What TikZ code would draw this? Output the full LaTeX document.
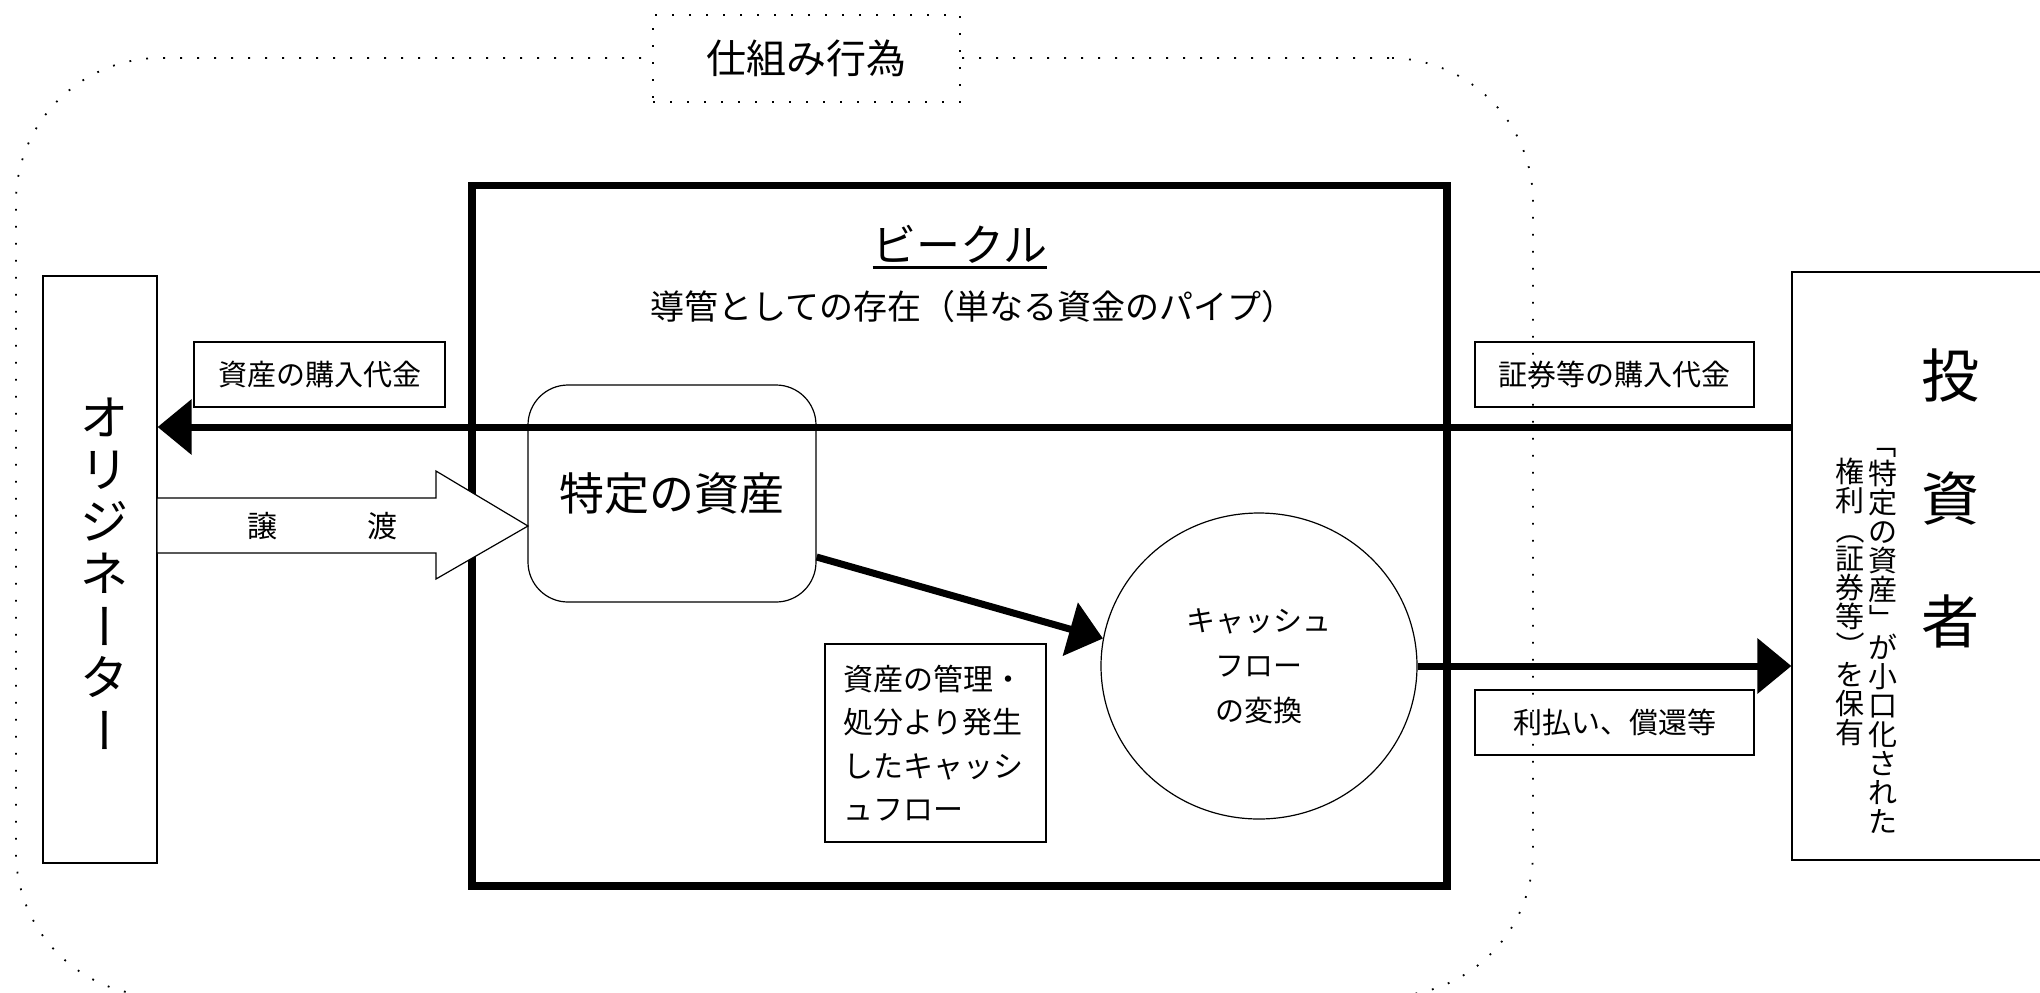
\documentclass[tikz,border=0pt]{standalone}
\usepackage{fontspec}
\setmainfont{Noto Sans CJK JP}
\usetikzlibrary{arrows.meta,shapes.geometric,calc}
\newcommand\vrot[1]{\rotatebox[origin=c]{-90}{\makebox[1em]{\vphantom{国}#1}}}
\newcommand\thickul[1]{\setbox0\hbox{#1}\leavevmode\rlap{\rule[-3.75pt]{\wd0}{1.5pt}}\box0}
\begin{document}
\begin{tikzpicture}[x=0.5pt,y=-0.5pt,
  thinbox/.style={draw, line width=0.6pt, inner sep=0pt},
  dotted line/.style={line width=0.9pt, dash pattern=on 0.9pt off 7.6pt},
  flow/.style={line width=3.5pt, -{Triangle[length=17pt,width=27pt]}},
  lbl/.style={thinbox, minimum height=32.5pt, font=\fontsize{14.5}{17}\selectfont},
  vsmall/.style={anchor=north, align=center, inner sep=0pt,
    font=\fontsize{14.5}{14.5}\selectfont}
]
\useasboundingbox (0,0) rectangle (2040,992);
% outer dotted frame
\node[draw, dotted line, rounded corners=72pt, minimum width=758.5pt, minimum height=469pt, inner sep=0pt] (frame) at (774.5,527) {};
\node[draw, dotted line, fill=white, minimum width=153.5pt, minimum height=43.5pt, inner sep=0pt,
  font=\fontsize{20}{24}\selectfont] (shikumi) at (806.5,58.5) {仕組み行為};
% vehicle
\node[draw, line width=3.75pt, minimum width=487.5pt, minimum height=350.25pt, inner sep=0pt] (vehicle) at (959.5,535.75) {};
\node[font=\fontsize{22}{26}\selectfont, inner sep=0pt] (vtitle) at (960,247) {\thickul{ビークル}};
\node[font=\fontsize{17}{20}\selectfont, inner sep=0pt] (vsub) at (973,307) {導管としての存在（単なる資金のパイプ）};
% originator
\node[thinbox, minimum width=57pt, minimum height=293.5pt] (orig) at (100,569.5) {};
\node[align=center, inner sep=0pt, font=\fontsize{24}{26}\selectfont] (origtext) at (104,576)
  {オ\\リ\\ジ\\ネ\\\vrot{ー}\\タ\\\vrot{ー}};
% investor
\node[thinbox, minimum width=154pt, minimum height=294pt] (invest) at (1946,566) {};
\node[align=center, inner sep=0pt, font=\fontsize{29}{61.5}\selectfont] (invname) at (1950,498) {投\\資\\者};
\node[vsmall] (col1) at (1883,429) {\vrot{「}\\特\\定\\の\\資\\産\\\vrot{」}\\が\\小\\口\\化\\さ\\れ\\た};
\node[vsmall] (col2) at (1850,458) {権\\利\\\vrot{（}\\証\\券\\等\\\vrot{）}\\を\\保\\有};
% labels
\node[lbl, minimum width=125.5pt] (lbuy) at (319.5,374.5) {資産の購入代金};
\node[lbl, minimum width=139.5pt] (rbuy) at (1614.5,374.5) {証券等の購入代金};
\node[lbl, minimum width=139.5pt] (rpay) at (1614.5,722.5) {利払い、償還等};
% specific asset
\node[draw, line width=0.6pt, rounded corners=20pt, minimum width=144pt, minimum height=108.5pt, inner sep=0pt,
  font=\fontsize{22.5}{26}\selectfont] (asset) at (672,493.5) {特定の資産};
% cash flow conversion
\node[draw, ellipse, line width=0.6pt, minimum width=158pt, minimum height=153pt, inner sep=0pt, align=center,
  font=\fontsize{14.5}{22.5}\selectfont] (cf) at (1259,666) {キャッシュ\\フロー\\の変換};
% note
\node[thinbox, minimum width=110.5pt, minimum height=99pt, text width=92pt, inner xsep=9.25pt, align=left,
  font=\fontsize{15}{21.75}\selectfont] (note) at (935.5,743) {資産の管理・\\処分より発生\\したキャッシ\\ュフロー};
% connectors
\coordinate (topline) at (1000,427);
\draw[flow] (invest.west |- topline) -- (orig.east |- topline);
\draw[flow] ([yshift=-31.75pt]asset.east) -- (cf.170);
\draw[flow] (cf.east) -- (invest.west |- cf.east);
% transfer arrow
\coordinate (jtip) at (528,526);
\draw[line width=0.6pt, fill=white] (157,498) -- (436,498) -- (436,471) -- (jtip) -- (436,579) -- (436,553) -- (157,553) -- cycle;
\node[font=\fontsize{15}{18}\selectfont, inner sep=0pt] (jouto) at (322,526) {譲　　　渡};
\end{tikzpicture}
\end{document}
